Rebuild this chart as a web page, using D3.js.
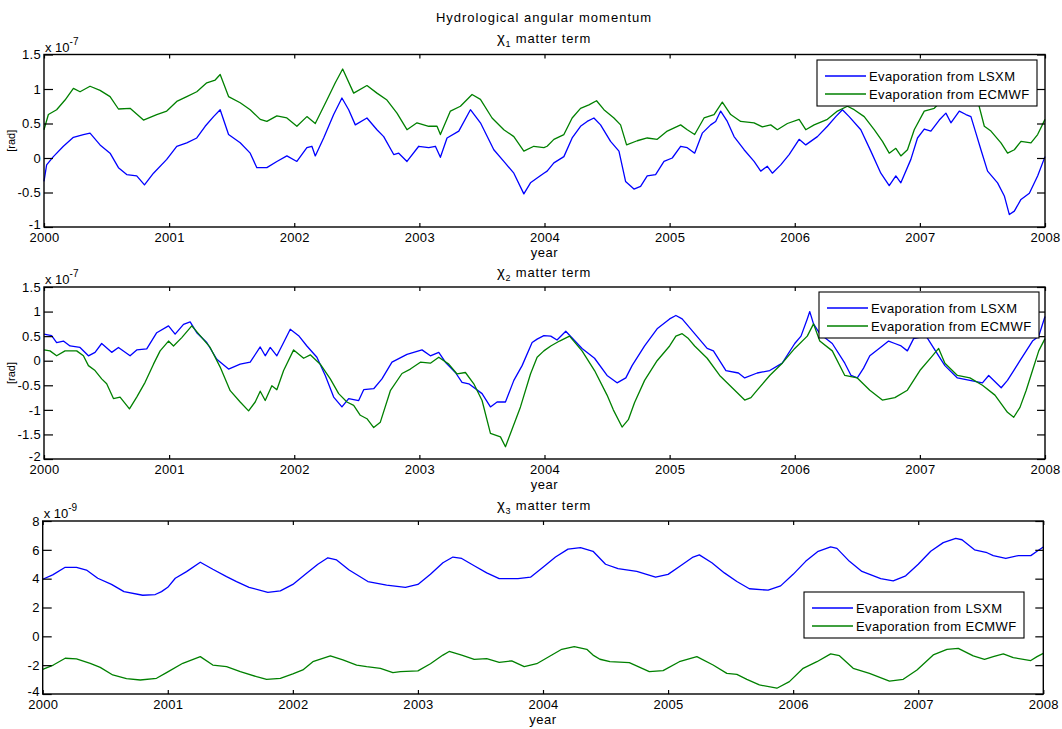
<!DOCTYPE html>
<html>
<head>
<meta charset="utf-8">
<script src="https://cdn.jsdelivr.net/npm/d3@7"></script>
<style>
  body { margin: 0; background: #ffffff; }
  svg { display: block; }
  text { font-family: "Liberation Sans", Arial, Helvetica, sans-serif; fill: #000; }
</style>
</head>
<body>
<script>
// values are [years since 2000, value]; panel 1 and 2 in 1e-7 rad, panel 3 in 1e-9 rad

var chi1Lsxm = [[0,-0.34],[0.021,-0.10],[0.075,0.02],[0.155,0.17],[0.235,0.30],[0.315,0.34],[0.368,0.36],[0.448,0.19],[0.528,0.07],[0.595,-0.14],[0.661,-0.24],[0.741,-0.26],[0.803,-0.39],[0.875,-0.22],[0.981,-0.02],[1.061,0.17],[1.141,0.22],[1.221,0.29],[1.288,0.46],[1.355,0.60],[1.408,0.70],[1.475,0.34],[1.568,0.22],[1.648,0.07],[1.701,-0.14],[1.781,-0.14],[1.861,-0.05],[1.941,0.03],[2.021,-0.05],[2.101,0.15],[2.141,0.17],[2.168,0.03],[2.235,0.29],[2.315,0.63],[2.381,0.87],[2.435,0.70],[2.488,0.48],[2.581,0.58],[2.661,0.41],[2.715,0.31],[2.795,0.05],[2.835,0.07],[2.901,-0.05],[2.995,0.17],[3.075,0.15],[3.128,0.17],[3.168,0.01],[3.221,0.29],[3.315,0.39],[3.408,0.70],[3.488,0.51],[3.595,0.12],[3.675,-0.05],[3.755,-0.22],[3.835,-0.52],[3.888,-0.36],[3.941,-0.29],[3.995,-0.22],[4.021,-0.19],[4.075,-0.07],[4.155,0.02],[4.221,0.29],[4.288,0.46],[4.341,0.53],[4.395,0.58],[4.448,0.48],[4.528,0.24],[4.595,0.10],[4.648,-0.34],[4.715,-0.45],[4.768,-0.41],[4.821,-0.26],[4.888,-0.24],[4.955,-0.05],[5.021,0.00],[5.088,0.17],[5.141,0.15],[5.2,0.07],[5.261,0.36],[5.328,0.48],[5.368,0.53],[5.408,0.68],[5.461,0.53],[5.515,0.31],[5.595,0.12],[5.675,-0.05],[5.728,-0.19],[5.781,-0.12],[5.821,-0.22],[5.888,-0.10],[5.955,0.05],[6.035,0.27],[6.088,0.19],[6.181,0.31],[6.261,0.46],[6.328,0.60],[6.381,0.70],[6.435,0.60],[6.528,0.41],[6.608,0.10],[6.688,-0.22],[6.755,-0.40],[6.808,-0.26],[6.848,-0.36],[6.928,-0.02],[6.981,0.29],[7.035,0.42],[7.088,0.39],[7.155,0.55],[7.208,0.65],[7.248,0.51],[7.315,0.68],[7.368,0.63],[7.408,0.60],[7.448,0.36],[7.488,0.12],[7.541,-0.19],[7.621,-0.36],[7.675,-0.55],[7.715,-0.82],[7.755,-0.77],[7.808,-0.60],[7.875,-0.51],[7.941,-0.26],[8.0,0.02]];

var chi1Ecmwf = [[0,0.41],[0.035,0.63],[0.101,0.70],[0.168,0.84],[0.235,1.01],[0.288,0.96],[0.368,1.04],[0.448,0.98],[0.528,0.89],[0.595,0.71],[0.688,0.72],[0.795,0.55],[0.901,0.63],[0.981,0.68],[1.061,0.82],[1.141,0.89],[1.221,0.96],[1.301,1.09],[1.368,1.13],[1.408,1.21],[1.475,0.89],[1.568,0.80],[1.648,0.70],[1.728,0.56],[1.781,0.53],[1.861,0.61],[1.941,0.58],[2.021,0.46],[2.101,0.60],[2.168,0.50],[2.261,0.84],[2.328,1.09],[2.387,1.29],[2.475,0.94],[2.581,1.05],[2.661,0.94],[2.741,0.84],[2.821,0.65],[2.901,0.41],[2.981,0.51],[3.075,0.46],[3.141,0.46],[3.168,0.34],[3.248,0.68],[3.328,0.75],[3.421,0.92],[3.488,0.85],[3.581,0.58],[3.675,0.41],[3.755,0.31],[3.835,0.10],[3.915,0.17],[3.995,0.15],[4.021,0.17],[4.075,0.27],[4.155,0.34],[4.221,0.58],[4.288,0.72],[4.355,0.77],[4.416,0.83],[4.475,0.70],[4.555,0.58],[4.608,0.48],[4.656,0.19],[4.741,0.25],[4.821,0.29],[4.901,0.27],[4.981,0.39],[5.088,0.48],[5.141,0.41],[5.2,0.34],[5.275,0.58],[5.355,0.63],[5.421,0.81],[5.488,0.63],[5.568,0.53],[5.675,0.51],[5.741,0.45],[5.808,0.48],[5.861,0.41],[5.941,0.50],[6.035,0.56],[6.088,0.41],[6.155,0.48],[6.261,0.56],[6.341,0.68],[6.421,0.75],[6.475,0.70],[6.555,0.60],[6.635,0.41],[6.701,0.24],[6.755,0.07],[6.808,0.14],[6.848,0.03],[6.901,0.12],[6.955,0.41],[7.035,0.68],[7.115,0.72],[7.2,0.88],[7.3,0.95],[7.4,0.90],[7.461,0.84],[7.515,0.46],[7.568,0.39],[7.648,0.22],[7.701,0.07],[7.755,0.12],[7.808,0.24],[7.888,0.22],[7.941,0.34],[8.0,0.56]];

var chi2Lsxm = [[0,0.54],[0.061,0.51],[0.101,0.37],[0.155,0.40],[0.208,0.30],[0.288,0.27],[0.355,0.10],[0.408,0.17],[0.461,0.35],[0.541,0.17],[0.595,0.27],[0.688,0.10],[0.741,0.22],[0.821,0.24],[0.901,0.57],[0.995,0.71],[1.048,0.54],[1.115,0.74],[1.168,0.79],[1.221,0.57],[1.301,0.37],[1.381,0.03],[1.475,-0.17],[1.568,-0.07],[1.648,-0.03],[1.728,0.28],[1.768,0.10],[1.808,0.27],[1.861,0.10],[1.915,0.37],[1.968,0.64],[2.035,0.51],[2.101,0.30],[2.181,0.07],[2.248,-0.30],[2.315,-0.74],[2.381,-0.94],[2.435,-0.77],[2.515,-0.81],[2.555,-0.59],[2.635,-0.57],[2.701,-0.37],[2.781,-0.03],[2.901,0.13],[3.021,0.22],[3.088,0.10],[3.155,0.17],[3.208,-0.03],[3.288,-0.24],[3.341,-0.44],[3.395,-0.47],[3.501,-0.67],[3.568,-0.94],[3.621,-0.84],[3.688,-0.84],[3.755,-0.40],[3.821,-0.10],[3.901,0.37],[3.941,0.44],[3.995,0.51],[4.05,0.50],[4.1,0.42],[4.17,0.60],[4.3,0.25],[4.4,0.05],[4.5,-0.30],[4.58,-0.45],[4.65,-0.35],[4.7,-0.10],[4.8,0.30],[4.9,0.65],[5.0,0.85],[5.05,0.92],[5.1,0.85],[5.2,0.55],[5.3,0.25],[5.35,0.20],[5.45,-0.20],[5.55,-0.25],[5.6,-0.35],[5.7,-0.25],[5.8,-0.20],[5.9,-0.05],[6.0,0.35],[6.05,0.50],[6.1,0.85],[6.12,1.00],[6.15,0.75],[6.2,0.55],[6.3,0.35],[6.4,-0.05],[6.45,-0.30],[6.5,-0.35],[6.55,-0.15],[6.6,0.10],[6.7,0.30],[6.75,0.40],[6.8,0.35],[6.85,0.30],[6.9,0.20],[6.95,0.45],[7.05,0.50],[7.15,0.10],[7.2,-0.10],[7.3,-0.35],[7.4,-0.40],[7.5,-0.45],[7.55,-0.30],[7.65,-0.55],[7.7,-0.40],[7.75,-0.20],[7.8,0.00],[7.85,0.20],[7.9,0.40],[7.95,0.50],[8.0,0.90]];

var chi2Ecmwf = [[0,0.22],[0.048,0.20],[0.101,0.10],[0.168,0.20],[0.261,0.20],[0.315,0.10],[0.355,-0.10],[0.408,-0.20],[0.461,-0.37],[0.501,-0.47],[0.555,-0.77],[0.608,-0.74],[0.683,-0.98],[0.741,-0.74],[0.808,-0.44],[0.875,-0.07],[0.928,0.20],[0.995,0.40],[1.035,0.30],[1.101,0.47],[1.181,0.71],[1.248,0.51],[1.328,0.27],[1.408,-0.13],[1.488,-0.61],[1.568,-0.84],[1.635,-1.02],[1.688,-0.84],[1.728,-0.62],[1.768,-0.81],[1.821,-0.51],[1.861,-0.59],[1.915,-0.20],[1.995,0.22],[2.075,0.05],[2.128,0.12],[2.208,-0.07],[2.288,-0.37],[2.355,-0.67],[2.421,-0.84],[2.475,-0.91],[2.528,-1.11],[2.581,-1.18],[2.635,-1.36],[2.688,-1.25],[2.768,-0.61],[2.861,-0.26],[2.928,-0.17],[3.008,-0.03],[3.088,-0.05],[3.155,0.07],[3.235,-0.07],[3.301,-0.27],[3.368,-0.24],[3.435,-0.47],[3.501,-0.81],[3.568,-1.48],[3.648,-1.55],[3.688,-1.75],[3.728,-1.48],[3.808,-0.94],[3.888,-0.27],[3.941,0.07],[3.995,0.20],[4.05,0.30],[4.12,0.40],[4.2,0.50],[4.3,0.20],[4.4,-0.20],[4.5,-0.70],[4.55,-1.00],[4.62,-1.35],[4.67,-1.20],[4.72,-0.85],[4.8,-0.40],[4.9,0.00],[5.0,0.30],[5.05,0.50],[5.1,0.55],[5.15,0.45],[5.2,0.30],[5.3,0.05],[5.4,-0.30],[5.5,-0.55],[5.6,-0.80],[5.65,-0.75],[5.7,-0.60],[5.8,-0.30],[5.9,-0.05],[6.0,0.25],[6.1,0.50],[6.15,0.75],[6.2,0.40],[6.3,0.20],[6.4,-0.30],[6.5,-0.35],[6.6,-0.60],[6.7,-0.80],[6.8,-0.75],[6.9,-0.60],[7.0,-0.20],[7.1,0.10],[7.15,0.25],[7.2,-0.05],[7.3,-0.30],[7.4,-0.35],[7.5,-0.50],[7.6,-0.70],[7.7,-1.05],[7.75,-1.15],[7.8,-0.95],[7.85,-0.60],[7.9,-0.20],[7.95,0.20],[8.0,0.45]];

var chi3Lsxm = [[0,3.96],[0.08,4.26],[0.18,4.79],[0.27,4.79],[0.35,4.6],[0.44,4.03],[0.55,3.6],[0.65,3.1],[0.8,2.85],[0.9,2.9],[0.95,3.1],[1.0,3.4],[1.06,4.03],[1.15,4.49],[1.26,5.14],[1.36,4.65],[1.47,4.14],[1.55,3.8],[1.65,3.4],[1.8,3.05],[1.9,3.15],[2.0,3.6],[2.1,4.3],[2.2,5.0],[2.28,5.45],[2.35,5.3],[2.45,4.6],[2.6,3.8],[2.75,3.55],[2.9,3.4],[3.0,3.6],[3.1,4.3],[3.2,5.1],[3.28,5.5],[3.35,5.4],[3.45,4.9],[3.55,4.4],[3.65,4.0],[3.8,4.0],[3.9,4.1],[4.0,4.8],[4.1,5.5],[4.2,6.05],[4.3,6.15],[4.4,5.9],[4.5,5.0],[4.6,4.7],[4.75,4.5],[4.9,4.1],[5.0,4.3],[5.1,4.9],[5.2,5.5],[5.25,5.65],[5.35,5.1],[5.45,4.4],[5.55,3.8],[5.65,3.3],[5.8,3.2],[5.9,3.5],[6.0,4.3],[6.1,5.2],[6.2,5.9],[6.3,6.2],[6.35,6.1],[6.45,5.2],[6.55,4.5],[6.7,4.0],[6.8,3.85],[6.9,4.2],[7.0,5.0],[7.1,5.9],[7.2,6.5],[7.3,6.8],[7.35,6.7],[7.45,6.0],[7.55,5.8],[7.6,5.6],[7.7,5.4],[7.8,5.6],[7.9,5.6],[7.95,5.9],[8.0,6.2]];

var chi3Ecmwf = [[0,-2.29],[0.085,-1.99],[0.18,-1.52],[0.27,-1.56],[0.38,-1.87],[0.46,-2.15],[0.56,-2.68],[0.67,-2.94],[0.78,-3.03],[0.91,-2.91],[0.99,-2.52],[1.12,-1.87],[1.26,-1.41],[1.36,-1.99],[1.47,-2.1],[1.58,-2.45],[1.71,-2.8],[1.79,-2.98],[1.90,-2.91],[2.0,-2.61],[2.08,-2.33],[2.16,-1.76],[2.30,-1.36],[2.40,-1.64],[2.51,-1.99],[2.59,-2.1],[2.70,-2.22],[2.80,-2.52],[2.86,-2.45],[3.0,-2.4],[3.1,-1.9],[3.2,-1.3],[3.25,-1.05],[3.35,-1.3],[3.45,-1.6],[3.55,-1.55],[3.65,-1.8],[3.75,-1.7],[3.85,-2.1],[3.95,-1.9],[4.05,-1.4],[4.15,-0.9],[4.25,-0.72],[4.35,-0.9],[4.4,-1.3],[4.455,-1.59],[4.535,-1.76],[4.69,-1.83],[4.85,-2.45],[4.96,-2.38],[5.09,-1.76],[5.23,-1.41],[5.36,-1.99],[5.47,-2.57],[5.55,-2.64],[5.63,-2.98],[5.73,-3.37],[5.87,-3.6],[5.97,-3.14],[6.08,-2.22],[6.19,-1.76],[6.30,-1.22],[6.37,-1.34],[6.48,-2.22],[6.61,-2.57],[6.77,-3.1],[6.88,-2.98],[6.99,-2.33],[7.12,-1.29],[7.23,-0.9],[7.32,-0.83],[7.44,-1.36],[7.53,-1.59],[7.60,-1.41],[7.68,-1.22],[7.76,-1.48],[7.90,-1.68],[7.95,-1.41],[8.0,-1.18]];

var yearTicks = [0, 1, 2, 3, 4, 5, 6, 7, 8];
var chi1Ticks = [-1, -0.5, 0, 0.5, 1, 1.5];
var chi2Ticks = [-2, -1.5, -1, -0.5, 0, 0.5, 1, 1.5];
var chi3Ticks = [-4, -2, 0, 2, 4, 6, 8];

var seriesNames = ["Evaporation from LSXM", "Evaporation from ECMWF"];
var seriesColors = ["#0000ff", "#008000"];

var svg_width = 1062, svg_height = 729;
var font_size = 13;

var svg = d3.select("body").append("svg")
            .attr("width", svg_width)
            .attr("height", svg_height);

svg.append("rect").attr("width", svg_width).attr("height", svg_height).attr("fill", "#fff");

// main title
svg.append("text")
   .attr("x", 544).attr("y", 22)
   .attr("text-anchor", "middle")
   .style("font-size", font_size + "px")
   .style("letter-spacing", "1px")
   .text("Hydrological angular momentum");

var panels = [
  { sub: "1", exponent: "-7", ticks: chi1Ticks, domain: [-1, 1.5], series: [chi1Lsxm, chi1Ecmwf],
    box: {left: 44, right: 1045, top: 54.5, bottom: 227}, titleY: 43, legend: {x: 817, y: 60}, ylabel: true },
  { sub: "2", exponent: "-7", ticks: chi2Ticks, domain: [-2, 1.5], series: [chi2Lsxm, chi2Ecmwf],
    box: {left: 44, right: 1045, top: 287, bottom: 459}, titleY: 277, legend: {x: 819, y: 292}, ylabel: true },
  { sub: "3", exponent: "-9", ticks: chi3Ticks, domain: [-4, 8], series: [chi3Lsxm, chi3Ecmwf],
    box: {left: 42.7, right: 1043.3, top: 521, bottom: 694}, titleY: 510, legend: {x: 804, y: 592}, ylabel: false }
];

panels.forEach(drawPanel);

function drawPanel(p)
{
  var b = p.box;
  var x = d3.scaleLinear().domain([0, 8]).range([b.left, b.right]);
  var y = d3.scaleLinear().domain(p.domain).range([b.bottom, b.top]);

  var g = svg.append("g");

  // data lines
  var line = d3.line()
               .x(function(d) { return x(d[0]); })
               .y(function(d) { return y(d[1]); });

  p.series.forEach(function(s, i)
  {
    g.append("path")
     .datum(s)
     .attr("fill", "none")
     .attr("stroke", seriesColors[i])
     .attr("stroke-width", 1.3)
     .attr("stroke-linejoin", "round")
     .attr("d", line);
  });

  // axes, ticks pointing inward on every side
  var fmtYear = function(d) { return String(2000 + d); };
  var fmtVal = function(d) { return String(d); };

  var xb = g.append("g").attr("transform", "translate(0," + b.bottom + ")")
            .call(d3.axisBottom(x).tickValues(yearTicks).tickSizeInner(-4).tickSizeOuter(0).tickPadding(6).tickFormat(fmtYear));
  var xt = g.append("g").attr("transform", "translate(0," + b.top + ")")
            .call(d3.axisTop(x).tickValues(yearTicks).tickSizeInner(-4).tickSizeOuter(0).tickFormat(""));
  var yl = g.append("g").attr("transform", "translate(" + b.left + ",0)")
            .call(d3.axisLeft(y).tickValues(p.ticks).tickSizeInner(-9).tickSizeOuter(0).tickPadding(3).tickFormat(fmtVal));
  var yr = g.append("g").attr("transform", "translate(" + b.right + ",0)")
            .call(d3.axisRight(y).tickValues(p.ticks).tickSizeInner(-8).tickSizeOuter(0).tickFormat(""));

  [xb, xt, yl, yr].forEach(function(a)
  {
    a.select(".domain").remove();
    a.selectAll(".tick line").attr("stroke", "#000").attr("stroke-width", 1.2);
    a.selectAll(".tick text")
     .style("font-size", font_size + "px")
     .style("font-family", "'Liberation Sans', Arial, sans-serif")
     .style("letter-spacing", "0.3px")
     .attr("fill", "#000");
  });

  // lowest value label sits a little higher, clear of the year labels
  yl.selectAll(".tick text")
    .filter(function(d) { return d === p.domain[0]; })
    .attr("dy", "0.1em");

  // frame
  g.append("rect")
   .attr("x", b.left).attr("y", b.top)
   .attr("width", b.right - b.left).attr("height", b.bottom - b.top)
   .attr("fill", "none").attr("stroke", "#000").attr("stroke-width", 1.4);

  // exponent note
  var ex = g.append("text").attr("x", b.left + 1).attr("y", b.top - 3)
            .style("font-size", font_size + "px");
  ex.append("tspan").text("x 10");
  ex.append("tspan").attr("dy", -7).style("font-size", "10px").text(p.exponent);

  // panel title
  var t = g.append("text").attr("x", 544).attr("y", p.titleY)
           .attr("text-anchor", "middle")
           .style("font-size", font_size + "px")
           .style("letter-spacing", "0.8px");
  t.append("tspan").style("font-size", "15px").text("\u03c7");
  t.append("tspan").attr("dy", 4).style("font-size", "9px").text(p.sub);
  t.append("tspan").attr("dy", -4).text(" matter term");

  // x label
  g.append("text").attr("x", (b.left + b.right) / 2).attr("y", b.bottom + 30)
   .attr("text-anchor", "middle")
   .style("font-size", font_size + "px")
   .style("letter-spacing", "0.5px")
   .text("year");

  if (p.ylabel)
  {
    g.append("text")
     .attr("transform", "translate(15," + ((b.top + b.bottom) / 2) + ") rotate(-90)")
     .attr("text-anchor", "middle")
     .style("font-size", "11px")
     .text("[rad]");
  }

  // legend
  var lg = g.append("g").attr("transform", "translate(" + p.legend.x + "," + p.legend.y + ")");
  lg.append("rect").attr("width", 220).attr("height", 46)
    .attr("fill", "#fff").attr("stroke", "#000").attr("stroke-width", 1.1);

  seriesNames.forEach(function(name, i)
  {
    var ry = 16 + i * 18;
    lg.append("line").attr("x1", 8).attr("x2", 49).attr("y1", ry).attr("y2", ry)
      .attr("stroke", seriesColors[i]).attr("stroke-width", 1.3);
    lg.append("text").attr("x", 52).attr("y", ry + 4.5)
      .style("font-size", font_size + "px")
      .style("letter-spacing", "0.4px")
      .text(name);
  });
}
</script>
</body>
</html>
